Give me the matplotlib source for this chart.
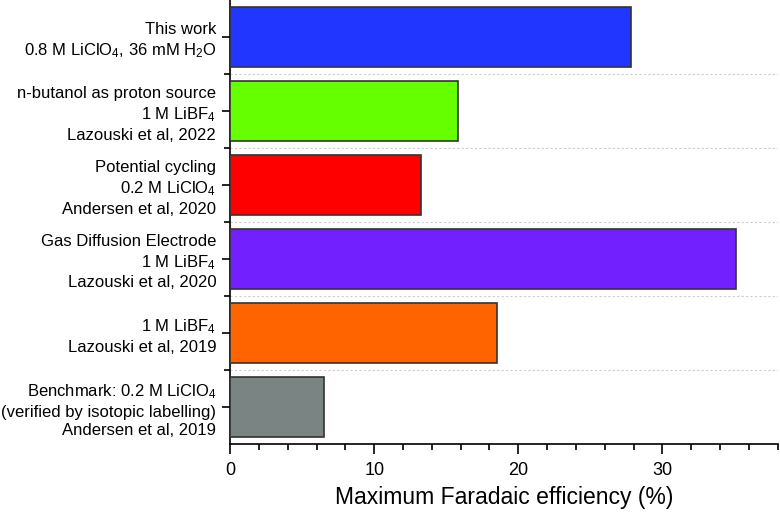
import matplotlib
matplotlib.use("Agg")
import matplotlib.pyplot as plt
from matplotlib.ticker import MultipleLocator, FixedLocator

plt.rcParams['font.family'] = ['Liberation Sans', 'DejaVu Sans']
plt.rcParams['mathtext.fontset'] = 'custom'
plt.rcParams['mathtext.rm'] = 'Liberation Sans'
plt.rcParams['mathtext.it'] = 'Liberation Sans'

# Data, top to bottom as in the figure
labels = [
    "This work\n0.8 M LiClO$_4$, 36 mM H$_2$O",
    "n-butanol as proton source\n1 M LiBF$_4$\nLazouski et al, 2022",
    "Potential cycling\n0.2 M LiClO$_4$\nAndersen et al, 2020",
    "Gas Diffusion Electrode\n1 M LiBF$_4$\nLazouski et al, 2020",
    "1 M LiBF$_4$\nLazouski et al, 2019",
    "Benchmark: 0.2 M LiClO$_4$\n(verified by isotopic labelling)\nAndersen et al, 2019",
]
efficiency = [27.85, 15.85, 13.25, 35.1, 18.55, 6.55]
colors = ['#2137FF', '#66FF00', '#FF0000', '#7320FF', '#FF6400', '#7A8583']

fig = plt.figure(figsize=(7.8, 5.12), dpi=100)
ax = fig.add_axes([0.295, 0.133, 0.702, 0.867])

ypos = list(range(len(labels)))[::-1]
ax.barh(ypos, efficiency, height=0.8, color=colors, edgecolor='#333333', linewidth=1.2, zorder=3)

ax.set_xlim(0, 38)
ax.set_ylim(-0.5, len(labels) - 0.5)

ax.set_yticks(ypos)
ax.set_yticklabels(labels, fontsize=12, linespacing=1.3, ha='right')
ax.yaxis.set_minor_locator(FixedLocator([i + 0.5 for i in range(len(labels) - 1)]))
ax.grid(which='minor', axis='y', color='#cccccc', linestyle=(0, (2, 2)), linewidth=0.8, zorder=0)

ax.xaxis.set_major_locator(MultipleLocator(10))
ax.xaxis.set_minor_locator(MultipleLocator(2))
ax.tick_params(axis='x', which='major', labelsize=13, length=7, width=1.2, pad=6)
ax.tick_params(axis='x', which='minor', length=4, width=1.2)
ax.tick_params(axis='y', which='major', length=6, width=1.2, pad=4)
ax.tick_params(axis='y', which='minor', length=4, width=1.2)

ax.spines['top'].set_visible(False)
ax.spines['right'].set_visible(False)
ax.spines['left'].set_linewidth(1.2)
ax.spines['bottom'].set_linewidth(1.2)

ax.set_xlabel('Maximum Faradaic efficiency (%)', fontsize=16.5, labelpad=5)

fig.savefig('out.png', dpi=100)
